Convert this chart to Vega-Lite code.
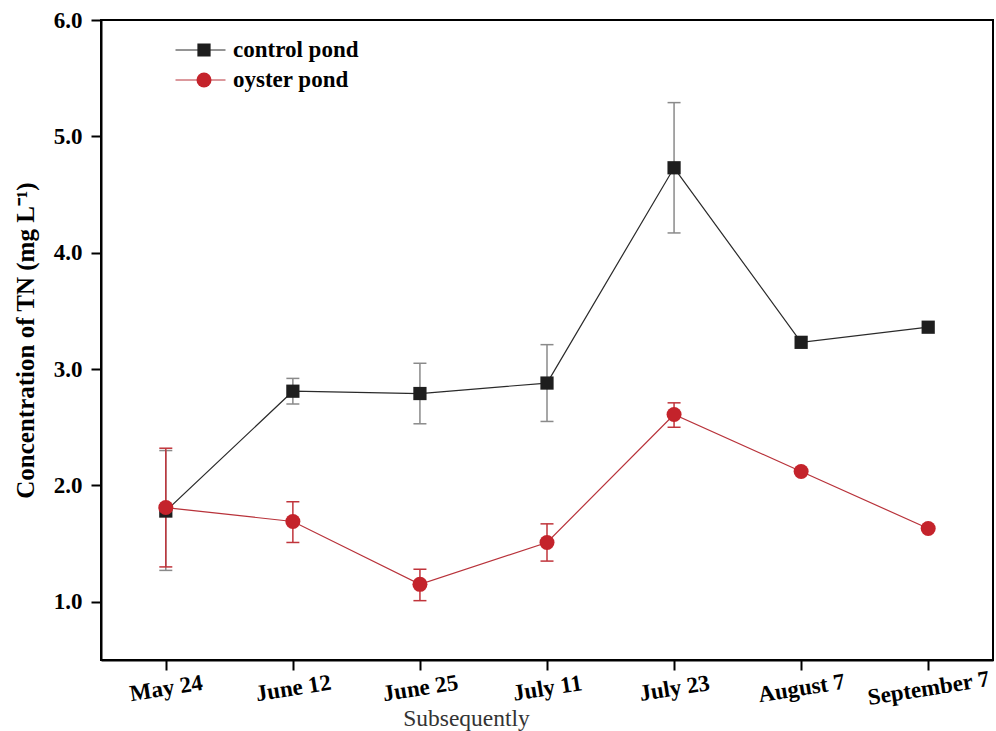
{
  "$schema": "https://vega.github.io/schema/vega-lite/v6.json",
  "width": 892,
  "height": 640,
  "autosize": {"type": "none"},
  "padding": {"left": 101, "top": 20, "right": 3, "bottom": 71},
  "background": "white",
  "config": {
    "font": "Liberation Serif",
    "view": {"stroke": "black", "strokeWidth": 2},
    "axis": {
      "domainColor": "black",
      "domainWidth": 2,
      "tickColor": "black",
      "tickWidth": 2,
      "tickSize": 10,
      "grid": false,
      "labelFont": "Liberation Serif",
      "labelFontWeight": "bold",
      "labelFontSize": 23,
      "labelColor": "black",
      "titleFont": "Liberation Serif",
      "titleColor": "black"
    }
  },
  "data": {
    "values": [
      {"date": "May 24", "series": "control pond", "value": 1.78, "lower": 1.27, "upper": 2.30},
      {"date": "June 12", "series": "control pond", "value": 2.81, "lower": 2.70, "upper": 2.92},
      {"date": "June 25", "series": "control pond", "value": 2.79, "lower": 2.53, "upper": 3.05},
      {"date": "July 11", "series": "control pond", "value": 2.88, "lower": 2.55, "upper": 3.21},
      {"date": "July 23", "series": "control pond", "value": 4.73, "lower": 4.17, "upper": 5.29},
      {"date": "August 7", "series": "control pond", "value": 3.23, "lower": null, "upper": null},
      {"date": "September 7", "series": "control pond", "value": 3.36, "lower": null, "upper": null},
      {"date": "May 24", "series": "oyster pond", "value": 1.81, "lower": 1.30, "upper": 2.32},
      {"date": "June 12", "series": "oyster pond", "value": 1.69, "lower": 1.51, "upper": 1.86},
      {"date": "June 25", "series": "oyster pond", "value": 1.15, "lower": 1.01, "upper": 1.28},
      {"date": "July 11", "series": "oyster pond", "value": 1.51, "lower": 1.35, "upper": 1.67},
      {"date": "July 23", "series": "oyster pond", "value": 2.61, "lower": 2.50, "upper": 2.71},
      {"date": "August 7", "series": "oyster pond", "value": 2.12, "lower": null, "upper": null},
      {"date": "September 7", "series": "oyster pond", "value": 1.63, "lower": null, "upper": null}
    ]
  },
  "encoding": {
    "x": {
      "field": "date",
      "type": "ordinal",
      "sort": ["May 24", "June 12", "June 25", "July 11", "July 23", "August 7", "September 7"],
      "scale": {"type": "point", "padding": 0.51},
      "axis": {
        "title": "Subsequently",
        "titleFontSize": 23.5,
        "titleFontWeight": "normal",
        "titleColor": "#333333",
        "titleX": 365,
        "titleY": 65,
        "titleAlign": "center",
        "titleBaseline": "alphabetic",
        "labelAngle": -9,
        "labelAlign": "center",
        "labelBaseline": "middle",
        "labelPadding": 18
      }
    }
  },
  "layer": [
    {
      "transform": [{"filter": "datum.series === 'control pond' && isValid(datum.lower)"}],
      "mark": {"type": "rule", "color": "#8a8a8a", "strokeWidth": 1.5},
      "encoding": {
        "y": {"field": "lower", "type": "quantitative", "title": "Concentration of TN (mg L⁻¹)"},
        "y2": {"field": "upper"}
      }
    },
    {
      "transform": [{"filter": "datum.series === 'control pond' && isValid(datum.lower)"}],
      "mark": {"type": "tick", "color": "#8a8a8a", "thickness": 1.5, "size": 13, "opacity": 1},
      "encoding": {
        "y": {"field": "lower", "type": "quantitative", "title": "Concentration of TN (mg L⁻¹)"}
      }
    },
    {
      "transform": [{"filter": "datum.series === 'control pond' && isValid(datum.lower)"}],
      "mark": {"type": "tick", "color": "#8a8a8a", "thickness": 1.5, "size": 13, "opacity": 1},
      "encoding": {
        "y": {"field": "upper", "type": "quantitative", "title": "Concentration of TN (mg L⁻¹)"}
      }
    },
    {
      "mark": {"type": "line", "strokeWidth": 1.2},
      "encoding": {
        "y": {"field": "value", "type": "quantitative", "title": "Concentration of TN (mg L⁻¹)"},
        "stroke": {
          "field": "series",
          "type": "nominal",
          "scale": {"range": ["#2a2a2a", "#b8323a"]},
          "legend": {
            "orient": "none",
            "legendX": 74,
            "legendY": 15,
            "title": null,
            "padding": 0,
            "clipHeight": 30,
            "symbolType": "stroke",
            "symbolSize": 2500,
            "symbolStrokeWidth": 1,
            "labelFontSize": 23,
            "labelExpr": "''",
            "rowPadding": 0
          }
        }
      }
    },
    {
      "transform": [{"filter": "datum.series === 'oyster pond' && isValid(datum.lower)"}],
      "mark": {"type": "rule", "color": "#c0343b", "strokeWidth": 1.5},
      "encoding": {
        "y": {"field": "lower", "type": "quantitative", "title": "Concentration of TN (mg L⁻¹)"},
        "y2": {"field": "upper"}
      }
    },
    {
      "transform": [{"filter": "datum.series === 'oyster pond' && isValid(datum.lower)"}],
      "mark": {"type": "tick", "color": "#c0343b", "thickness": 1.5, "size": 13, "opacity": 1},
      "encoding": {
        "y": {"field": "lower", "type": "quantitative", "title": "Concentration of TN (mg L⁻¹)"}
      }
    },
    {
      "transform": [{"filter": "datum.series === 'oyster pond' && isValid(datum.lower)"}],
      "mark": {"type": "tick", "color": "#c0343b", "thickness": 1.5, "size": 13, "opacity": 1},
      "encoding": {
        "y": {"field": "upper", "type": "quantitative", "title": "Concentration of TN (mg L⁻¹)"}
      }
    },
    {
      "mark": {"type": "point", "filled": true, "opacity": 1, "strokeWidth": 0},
      "encoding": {
        "y": {
          "field": "value",
          "type": "quantitative",
          "title": "Concentration of TN (mg L⁻¹)",
          "scale": {"domain": [0.5, 6.0], "nice": false, "zero": false},
          "axis": {
            "values": [1, 2, 3, 4, 5, 6],
            "format": ".1f",
            "labelPadding": 9,
            "titleFontSize": 25,
            "titleFontWeight": "bold",
            "titleX": -76,
            "titleY": 320,
            "titleAngle": -90,
            "titleAlign": "center",
            "titleBaseline": "middle"
          }
        },
        "fill": {
          "field": "series",
          "type": "nominal",
          "scale": {"domain": ["control pond", "oyster pond"], "range": ["#1e1e1e", "#c4232b"]},
          "legend": {
            "orient": "none",
            "legendX": 91.5,
            "legendY": 15,
            "title": null,
            "padding": 0,
            "clipHeight": 30,
            "labelFont": "Liberation Serif",
            "labelFontSize": 23,
            "labelFontWeight": "bold",
            "labelColor": "black",
            "labelOffset": 17.5,
            "symbolOpacity": 1,
            "symbolStrokeWidth": 0,
            "rowPadding": 0
          }
        },
        "shape": {
          "field": "series",
          "type": "nominal",
          "scale": {"domain": ["control pond", "oyster pond"], "range": ["square", "circle"]}
        },
        "size": {
          "field": "series",
          "type": "nominal",
          "scale": {"domain": ["control pond", "oyster pond"], "range": [175, 225]}
        }
      }
    }
  ]
}
